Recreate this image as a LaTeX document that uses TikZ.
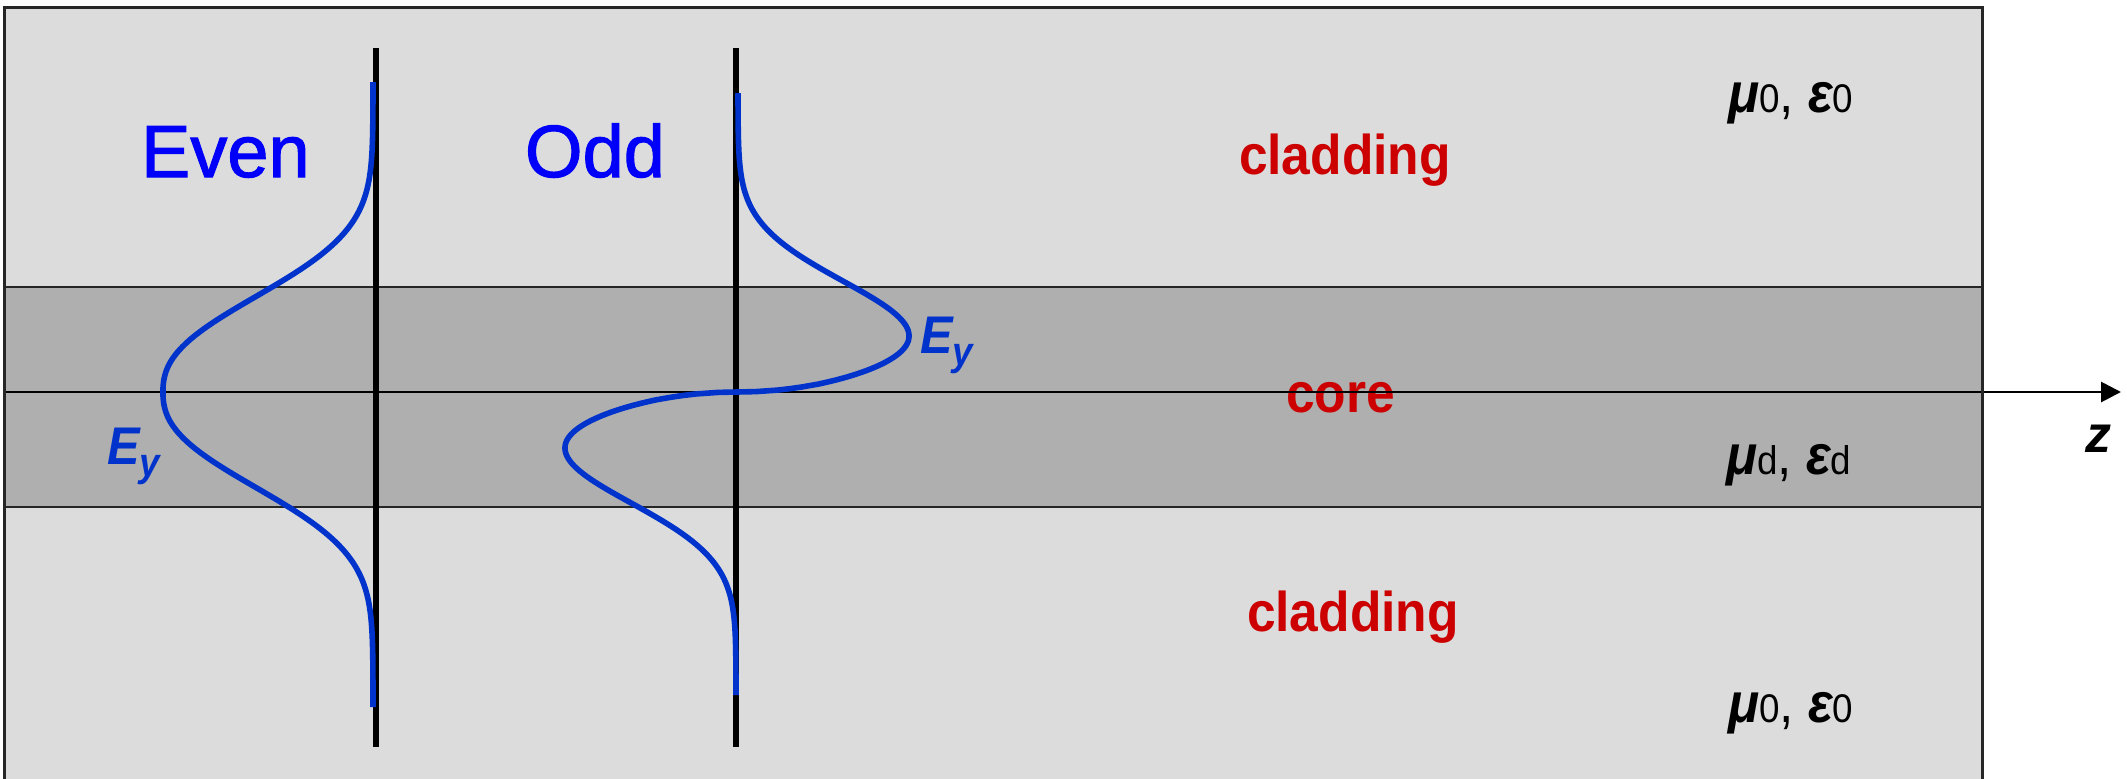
\documentclass[tikz,border=0pt]{standalone}
\usepackage{fontspec}
\setmainfont{Liberation Sans}
\newfontfamily\titlefont[FakeBold=1.5]{Liberation Sans}
\usetikzlibrary{arrows.meta}
\definecolor{cladfill}{RGB}{220,220,220}
\definecolor{corefill}{RGB}{175,175,175}
\definecolor{titleblue}{RGB}{0,0,250}
\definecolor{curveblue}{RGB}{0,51,204}
\definecolor{labred}{RGB}{204,0,0}
\newcommand\sqz[1]{\scalebox{0.92}[1]{#1}}
\newcommand\medlab[2]{{\bfseries\itshape #1}{\fontsize{20}{20}\selectfont #2}}
\newcommand\eylab{{\bfseries\itshape E\raisebox{-6pt}{\fontsize{20}{20}\selectfont y}}}
\begin{document}
\begin{tikzpicture}[x=0.5pt,y=-0.5pt,
  lbl/.style={inner sep=0pt, outer sep=0pt, anchor=base west},
  titletxt/.style={lbl, text=titleblue, font=\titlefont\fontsize{37}{37}\selectfont},
  regtxt/.style={lbl, text=labred, font=\fontsize{28}{28}\selectfont\bfseries},
  mattxt/.style={lbl, text=black, font=\fontsize{28}{28}\selectfont},
  eytxt/.style={lbl, text=curveblue, font=\fontsize{26.5}{26.5}\selectfont},
  boundary/.style={line width=1.3pt, black!85},
  axisline/.style={line width=2.8pt, black},
  field/.style={line width=2.8pt, curveblue, line join=round, line cap=butt}]
\useasboundingbox (0,0) rectangle (2127,778);
\begin{scope}
\clip (0,0) rectangle (2127,778);
% layers
\fill[cladfill] (4.5,7.5) rectangle (1982,790);
\fill[corefill] (4.5,287) rectangle (1982,507);
\coordinate (ctl) at (4.5,287);
\coordinate (ctr) at (1982,287);
\coordinate (cbl) at (4.5,507);
\coordinate (cbr) at (1982,507);
\draw[boundary] (ctl) -- (ctr);
\draw[boundary] (cbl) -- (cbr);
% region labels
\node[regtxt] (clad1) at (1239,174) {\sqz{cladding}};
\node[regtxt] (core) at (1286,412) {\sqz{core}};
\node[regtxt] (clad2) at (1247,631) {\sqz{cladding}};
\node[mattxt] (mat1) at (1728,112) {\sqz{\medlab{μ}{0}, \medlab{ε}{0}}};
\node[mattxt] (mat2) at (1726,474) {\sqz{\medlab{μ}{d}, \medlab{ε}{d}}};
\node[mattxt] (mat3) at (1728,722) {\sqz{\medlab{μ}{0}, \medlab{ε}{0}}};
% z axis
\coordinate (zstart) at (4.5,392);
\coordinate (zend) at (2121,392);
\draw[line width=1.4pt, -{Triangle[length=10pt,width=10pt]}] (zstart) -- (zend);
\node[lbl, font=\fontsize{26}{26}\selectfont\bfseries\itshape] (zlab) at (2085,452) {z};
% outer border
\draw[line width=1.5pt, black!85] (4.5,7.5) rectangle (1982,790);
% vertical axes
\coordinate (ea) at (376,48);
\coordinate (eb) at (376,747);
\coordinate (oa) at (736,48);
\coordinate (ob) at (736,747);
\draw[axisline] (ea) -- (eb);
\draw[axisline] (oa) -- (ob);
% even mode
\draw[field] plot[domain=-310:315, samples=251, smooth]
  ({373-210*exp(-pow(abs(\x)/119.5+0.0001,2.4))}, {392+\x});
% odd mode
\draw[field] plot[domain=299:0.4, samples=200]
  ({738+171*pow(\x/56,0.5)*exp((0.5/2.3)*(1-pow(\x/56,2.3)))}, {392-\x})
  -- (737,392) --
  plot[domain=0.4:303, samples=200]
  ({736-171*pow(\x/56,0.5)*exp((0.5/2.3)*(1-pow(\x/56,2.3)))}, {392+\x});
% titles
\node[titletxt] (even) at (141,177) {Even};
\node[titletxt] (odd) at (525,177) {Odd};
\node[eytxt] (eyeven) at (107,464) {\sqz{\eylab}};
\node[eytxt] (eyodd) at (920,353) {\sqz{\eylab}};
\end{scope}
\end{tikzpicture}
\end{document}
